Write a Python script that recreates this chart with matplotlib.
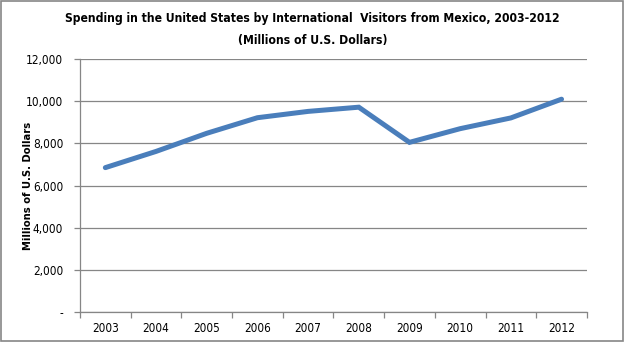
import matplotlib.pyplot as plt
from matplotlib import font_manager
from matplotlib.ticker import FuncFormatter, FixedLocator
from matplotlib.patches import Rectangle

years = ['2003', '2004', '2005', '2006', '2007', '2008', '2009', '2010', '2011', '2012']
spending = [6850, 7620, 8480, 9220, 9520, 9720, 8050, 8700, 9210, 10100]

names = {f.name for f in font_manager.fontManager.ttflist}
family = 'Liberation Sans Narrow' if 'Liberation Sans Narrow' in names else 'DejaVu Sans'
plt.rcParams['font.family'] = [family, 'DejaVu Sans']
plt.rcParams['font.stretch'] = 'condensed'

grey = '#868686'

fig = plt.figure(figsize=(6.25, 3.42), dpi=100)
ax = fig.add_axes([0.128, 0.088, 0.811, 0.739])

x = list(range(len(years)))
ax.plot(x, spending, color='#4A7EBB', linewidth=3.6, solid_capstyle='round',
        solid_joinstyle='miter', zorder=3)

ax.set_xlim(-0.5, len(years) - 0.5)
ax.set_ylim(0, 12000)
ax.set_yticks(range(0, 12001, 2000))
ax.yaxis.set_major_formatter(FuncFormatter(lambda v, p: '-' if v == 0 else f'{int(v):,}'))
ax.grid(axis='y', color=grey, linewidth=0.9)
ax.set_axisbelow(True)

ax.set_xticks(x)
ax.set_xticklabels(years)
ax.xaxis.set_minor_locator(FixedLocator([i - 0.5 for i in range(len(years) + 1)]))
ax.tick_params(axis='x', which='major', length=0, pad=7, labelsize=8.5, colors='black')
ax.tick_params(axis='x', which='minor', length=4, color=grey, width=0.9)
ax.tick_params(axis='y', length=4, color=grey, width=0.9, pad=8, labelsize=8.5)

for side in ('top', 'right'):
    ax.spines[side].set_visible(False)
for side in ('left', 'bottom'):
    ax.spines[side].set_color(grey)
    ax.spines[side].set_linewidth(0.9)

ax.set_ylabel('Millions of U.S. Dollars', fontsize=8, fontweight='bold')
ax.yaxis.set_label_coords(-0.092, 0.5)

fig.text(0.5, 0.945, 'Spending in the United States by International  Visitors from Mexico, 2003-2012',
         ha='center', va='center', fontsize=8.7, fontweight='bold')
fig.text(0.5, 0.882, '(Millions of U.S. Dollars)', ha='center', va='center',
         fontsize=8.7, fontweight='bold')

fig.patches.append(Rectangle((0.002, 0.003), 0.995, 0.993, transform=fig.transFigure,
                             fill=False, edgecolor=grey, linewidth=1.2))

fig.savefig('out.png', dpi=100)
